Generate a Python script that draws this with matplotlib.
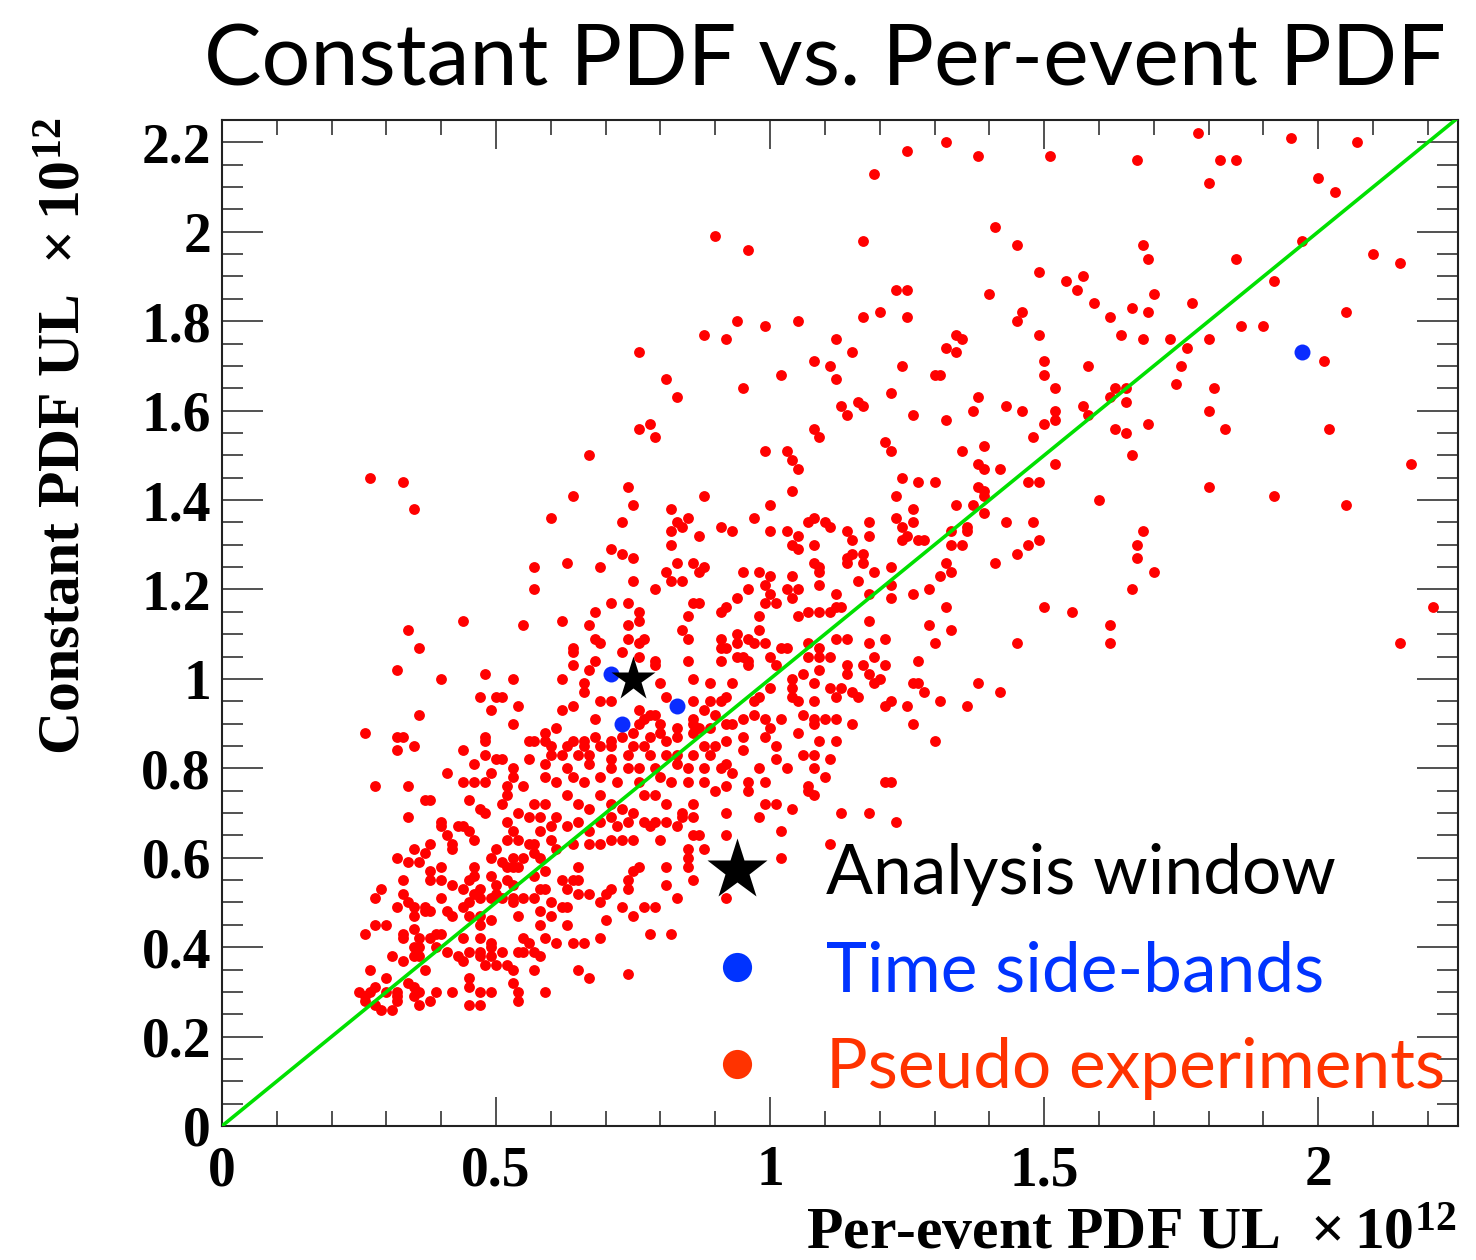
import matplotlib
matplotlib.use("Agg")
import matplotlib.pyplot as plt
from matplotlib.lines import Line2D
from matplotlib.ticker import MultipleLocator

# ---------------- data (units of 1e12) ----------------
pseudo_pts = [
 (0.90,1.99),(0.96,1.96),(0.94,1.80),(0.99,1.79),(1.05,1.80),(0.88,1.77),(0.92,1.76),(1.12,1.76),
 (0.76,1.73),(1.08,1.71),(1.11,1.70),(1.12,1.67),(0.81,1.67),(1.02,1.68),(0.95,1.65),(0.83,1.63),
 (1.13,1.61),(0.76,1.56),(0.78,1.57),(0.79,1.54),(1.08,1.56),(1.09,1.54),(0.99,1.51),(1.03,1.51),
 (0.67,1.50),
 (1.32,2.20),(1.25,2.18),(1.19,2.13),(1.38,2.17),(1.51,2.17),(1.67,2.16),(1.17,1.98),(1.41,2.01),
 (1.45,1.97),(1.68,1.97),(1.69,1.94),(1.49,1.91),(1.54,1.89),(1.57,1.90),(1.56,1.87),(1.40,1.86),
 (1.23,1.87),(1.25,1.87),(1.59,1.84),(1.66,1.83),(1.69,1.82),(1.46,1.82),(1.45,1.80),(1.20,1.82),
 (1.17,1.81),(1.25,1.81),(1.62,1.81),(1.34,1.77),(1.35,1.76),(1.49,1.77),(1.64,1.77),(1.68,1.76),
 (1.15,1.73),(1.32,1.74),(1.34,1.73),(1.50,1.71),(1.50,1.68),(1.58,1.70),(1.24,1.70),(1.30,1.68),
 (1.31,1.68),(1.52,1.65),(1.63,1.65),(1.65,1.65),(1.62,1.63),(1.65,1.62),(1.22,1.64),(1.16,1.62),
 (1.17,1.61),(1.14,1.59),(1.38,1.63),(1.37,1.60),(1.43,1.61),(1.46,1.60),(1.57,1.61),(1.58,1.59),
 (1.52,1.60),(1.52,1.58),(1.50,1.57),(1.26,1.59),(1.32,1.58),(1.63,1.56),(1.65,1.55),(1.69,1.57),
 (1.48,1.54),(1.21,1.53),(1.22,1.51),(1.35,1.51),(1.39,1.52),(1.66,1.50),
 (1.78,2.22),(1.95,2.21),(2.07,2.20),(1.82,2.16),(1.85,2.16),(1.80,2.11),(2.00,2.12),(2.03,2.09),
 (1.97,1.98),(1.85,1.94),(2.10,1.95),(2.15,1.93),(1.92,1.89),(1.70,1.86),(1.77,1.84),(2.05,1.82),
 (1.86,1.79),(1.90,1.79),(1.73,1.76),(1.76,1.74),(1.80,1.76),(2.01,1.71),(1.75,1.70),(1.74,1.66),
 (1.81,1.65),(1.80,1.60),(1.83,1.56),(2.02,1.56),
 (2.17,1.48),(1.80,1.43),(1.92,1.41),(2.05,1.39),(1.70,1.24),(2.21,1.16),(2.15,1.08),
 (1.38,1.48),(1.39,1.47),(1.42,1.47),(1.52,1.48),(1.24,1.45),(1.27,1.44),(1.30,1.44),(1.47,1.44),
 (1.49,1.44),(1.38,1.43),(1.39,1.42),(1.23,1.41),(1.39,1.41),(1.60,1.40),(1.34,1.39),(1.37,1.39),
 (1.26,1.38),(1.39,1.37),(1.23,1.36),(1.26,1.35),(1.24,1.34),(1.18,1.35),(1.43,1.35),(1.48,1.35),
 (1.36,1.34),(1.36,1.33),(1.68,1.33),(1.14,1.33),(1.15,1.31),(1.18,1.32),(1.24,1.31),(1.25,1.32),
 (1.27,1.31),(1.28,1.31),(1.33,1.30),(1.33,1.33),(1.35,1.30),(1.49,1.31),(1.47,1.30),(1.45,1.28),
 (1.67,1.30),(1.67,1.27),(1.14,1.27),(1.15,1.28),(1.17,1.28),(1.14,1.26),(1.17,1.26),(1.22,1.25),
 (1.19,1.24),(1.16,1.22),(1.32,1.26),(1.33,1.24),(1.31,1.23),(1.41,1.26),(1.22,1.21),(1.18,1.19),
 (1.22,1.18),(1.26,1.19),(1.29,1.20),(1.66,1.20),(1.13,1.16),(1.32,1.16),(1.50,1.16),(1.55,1.15),
 (1.18,1.13),(1.29,1.12),(1.33,1.11),(1.62,1.12),(1.14,1.09),(1.18,1.08),(1.21,1.09),(1.30,1.08),
 (1.45,1.08),(1.62,1.08),(1.19,1.05),(1.14,1.03),(1.17,1.03),(1.21,1.03),(1.27,1.04),(1.14,1.01),
 (1.18,1.01),(1.19,0.99),(1.20,1.00),(1.26,0.99),(1.27,0.99),(1.38,0.99),(1.13,0.98),(1.15,0.97),
 (1.16,0.96),(1.28,0.97),(1.42,0.97),(1.22,0.95),(1.21,0.94),(1.25,0.94),(1.31,0.95),(1.36,0.94),
 (1.15,0.90),(1.26,0.90),(1.30,0.86),(1.21,0.77),(1.22,0.77),
 (1.04,1.49),(1.05,1.47),(0.74,1.43),(0.64,1.41),(0.88,1.41),(1.04,1.42),(0.75,1.39),(1.00,1.39),
 (0.82,1.38),(0.60,1.36),(0.73,1.35),(0.85,1.36),(0.83,1.35),(0.84,1.34),(0.91,1.34),(0.93,1.33),
 (0.97,1.36),(1.00,1.33),(1.03,1.33),(1.05,1.32),(1.08,1.36),(1.07,1.35),(1.10,1.35),(1.11,1.34),
 (0.82,1.33),(0.87,1.32),(0.82,1.30),(0.71,1.29),(0.73,1.28),(0.75,1.27),(1.04,1.30),(1.05,1.29),
 (1.08,1.30),(0.63,1.26),(0.69,1.25),(0.57,1.25),(0.83,1.26),(0.86,1.26),(0.88,1.25),(0.87,1.24),
 (0.81,1.24),(0.82,1.22),(0.84,1.22),(0.95,1.24),(0.98,1.24),(1.00,1.23),(1.04,1.23),(1.08,1.26),
 (1.09,1.25),(1.09,1.24),(0.75,1.22),(0.79,1.20),(0.96,1.20),(0.99,1.21),(1.00,1.19),(1.03,1.20),
 (1.05,1.20),(1.09,1.21),(1.12,1.19),(0.57,1.20),(0.94,1.18),(0.99,1.17),(1.01,1.17),(1.04,1.18),
 (0.71,1.17),(0.74,1.17),(0.86,1.17),(0.87,1.17),(0.91,1.15),(0.92,1.16),(0.68,1.15),(0.76,1.15),
 (0.85,1.14),(1.07,1.15),(1.09,1.15),(1.11,1.15),(1.12,1.16),(0.98,1.14),(1.05,1.14),(0.62,1.13),
 (0.76,1.13),(0.67,1.12),(0.74,1.12),(0.68,1.09),(0.74,1.09),(0.84,1.11),(0.85,1.09),(0.94,1.10),
 (0.96,1.09),(0.98,1.11),(0.91,1.09),(0.91,1.07),(0.92,1.07),(0.76,1.08),(0.77,1.09),(0.69,1.08),
 (0.64,1.07),(0.64,1.06),(0.94,1.08),(0.97,1.08),(0.99,1.08),(1.02,1.07),(1.03,1.07),(1.07,1.08),
 (1.09,1.07),(1.12,1.09),(0.73,1.06),(0.76,1.05),(0.94,1.05),(0.95,1.05),(0.96,1.04),(1.00,1.05),
 (1.01,1.03),(0.68,1.04),(0.85,1.04),(0.91,1.04),(0.79,1.04),(0.79,1.03),(1.07,1.05),(1.09,1.05),
 (1.11,1.05),(0.64,1.03),(0.67,1.02),(0.62,1.00),(0.96,1.03),(1.06,1.01),(1.09,1.02),(0.86,1.00),
 (0.89,0.99),(0.93,0.99),(1.04,1.00),(1.04,0.98),(1.08,0.99),(0.80,0.99),(0.66,0.99),(0.66,0.97),
 (1.00,0.98),(1.11,0.98),(0.81,0.96),(0.69,0.95),(0.71,0.95),(0.64,0.94),(0.86,0.95),(0.89,0.95),
 (0.91,0.95),(0.92,0.96),(0.97,0.95),(0.98,0.96),(1.04,0.96),(1.05,0.95),(1.08,0.95),(1.12,0.96),
 (0.62,0.93),(0.76,0.93),(0.78,0.92),(0.79,0.92),(0.86,0.91),(0.88,0.93),(0.90,0.92),(0.95,0.91),
 (0.97,0.92),(0.99,0.91),(1.06,0.92),(1.08,0.91),(1.10,0.91),(1.12,0.91),(0.68,0.91),(0.76,0.90),
 (0.77,0.91),(0.80,0.90),(0.83,0.89),(0.86,0.90),(0.92,0.90),(0.93,0.90),(1.02,0.91),(1.00,0.89),
 (1.08,0.90),(0.61,0.89),(0.59,0.88),(0.57,0.86),(0.59,0.86),(0.64,0.86),(0.66,0.86),(0.68,0.87),
 (0.71,0.86),(0.73,0.87),(0.75,0.88),(0.78,0.87),(0.80,0.88),(0.83,0.87),(0.86,0.88),(0.87,0.89),
 (0.89,0.89),(0.95,0.87),(0.99,0.87),(1.05,0.88),(1.09,0.86),(1.12,0.86),(0.60,0.85),(0.63,0.85),
 (0.66,0.85),(0.69,0.85),(0.71,0.85),(0.75,0.85),(0.77,0.85),(0.81,0.86),(0.88,0.85),(0.90,0.85),
 (0.92,0.86),(1.01,0.85),(0.60,0.83),(0.62,0.83),(0.65,0.83),(0.67,0.83),(0.71,0.82),(0.74,0.83),
 (0.78,0.83),(0.81,0.83),(0.83,0.83),(0.86,0.83),(0.89,0.83),(0.92,0.81),(0.95,0.84),(1.01,0.82),
 (1.06,0.83),(1.08,0.83),(1.11,0.82),(0.59,0.81),(0.63,0.80),(0.67,0.81),(0.71,0.80),(0.74,0.80),
 (0.76,0.80),(0.79,0.80),(0.83,0.81),(0.85,0.80),(0.88,0.80),(0.91,0.80),(0.93,0.79),(0.98,0.80),
 (1.03,0.80),(1.08,0.80),(0.59,0.78),(0.61,0.77),(0.64,0.78),(0.66,0.77),(0.69,0.78),(0.72,0.77),
 (0.76,0.77),(0.80,0.78),(0.82,0.77),(0.85,0.77),(0.88,0.77),(0.92,0.76),(0.96,0.77),(0.99,0.77),
 (1.10,0.78),(1.07,0.76),
 (0.27,1.45),(0.33,1.44),(0.35,1.38),(0.44,1.13),(0.34,1.11),(0.55,1.12),(0.36,1.07),(0.32,1.02),
 (0.40,1.00),(0.48,1.01),(0.53,1.00),(0.47,0.96),(0.50,0.96),(0.51,0.96),(0.54,0.94),(0.49,0.93),
 (0.36,0.92),(0.53,0.90),(0.26,0.88),(0.32,0.87),(0.33,0.87),(0.48,0.87),(0.48,0.86),(0.56,0.86),
 (0.32,0.84),(0.35,0.85),(0.44,0.84),(0.48,0.83),(0.50,0.82),(0.51,0.82),(0.56,0.82),(0.46,0.81),
 (0.49,0.79),(0.53,0.80),(0.53,0.78),(0.41,0.79),(0.44,0.77),(0.46,0.77),(0.48,0.77),(0.52,0.76),
 (0.55,0.76),(0.28,0.76),(0.34,0.76),
 (0.37,0.73),(0.38,0.73),(0.45,0.73),(0.47,0.71),(0.48,0.70),(0.51,0.72),(0.52,0.74),(0.54,0.70),
 (0.56,0.69),(0.34,0.69),(0.40,0.68),(0.40,0.67),(0.43,0.67),(0.44,0.67),(0.41,0.65),(0.45,0.66),
 (0.46,0.64),(0.42,0.63),(0.42,0.62),(0.52,0.68),(0.53,0.66),(0.52,0.64),(0.54,0.64),(0.56,0.63),
 (0.35,0.62),(0.37,0.61),(0.38,0.63),(0.32,0.60),(0.34,0.59),(0.36,0.59),(0.50,0.62),(0.49,0.60),
 (0.51,0.59),(0.53,0.60),(0.55,0.60),(0.53,0.58),(0.46,0.58),(0.38,0.57),(0.40,0.58),(0.46,0.56),
 (0.52,0.58),(0.54,0.58),(0.33,0.55),(0.38,0.55),(0.40,0.55),(0.42,0.54),(0.44,0.53),(0.45,0.55),
 (0.47,0.53),(0.49,0.56),(0.50,0.54),(0.52,0.55),(0.53,0.54),(0.28,0.51),(0.29,0.53),(0.33,0.52),
 (0.32,0.49),(0.34,0.50),(0.35,0.49),(0.37,0.49),(0.35,0.47),(0.37,0.48),(0.38,0.48),(0.40,0.51),
 (0.41,0.48),(0.42,0.47),(0.44,0.49),(0.45,0.50),(0.46,0.52),(0.47,0.51),(0.49,0.51),(0.50,0.52),
 (0.51,0.51),(0.53,0.51),(0.53,0.50),(0.55,0.51),(0.45,0.47),(0.47,0.45),(0.47,0.47),(0.49,0.46),
 (0.54,0.47),(0.28,0.45),(0.30,0.45),(0.26,0.43),(0.33,0.43),(0.33,0.42),(0.35,0.44),(0.36,0.42),
 (0.38,0.42),(0.39,0.43),(0.40,0.43),(0.44,0.42),(0.47,0.42),(0.49,0.41),(0.49,0.40),(0.55,0.42),
 (0.56,0.41),(0.35,0.40),(0.36,0.40),(0.39,0.40),(0.41,0.39),(0.47,0.39),(0.51,0.39),(0.54,0.39),
 (0.31,0.38),(0.33,0.37),(0.35,0.38),(0.36,0.38),(0.43,0.38),(0.44,0.37),(0.45,0.39),(0.47,0.38),
 (0.48,0.36),(0.49,0.38),(0.50,0.36),(0.52,0.36),(0.53,0.35),(0.55,0.39),(0.27,0.35),(0.37,0.35),
 (0.45,0.33),(0.53,0.32),(0.45,0.31),(0.25,0.30),(0.26,0.29),(0.27,0.30),(0.28,0.31),(0.30,0.33),
 (0.30,0.30),(0.32,0.29),(0.32,0.30),(0.34,0.32),(0.35,0.31),(0.35,0.29),(0.36,0.30),(0.39,0.30),
 (0.38,0.28),(0.42,0.30),(0.47,0.30),(0.49,0.30),(0.54,0.30),(0.26,0.28),(0.28,0.27),(0.29,0.26),
 (0.31,0.26),(0.36,0.27),(0.45,0.27),(0.47,0.27),(0.54,0.28),(0.32,0.28),
 (0.57,0.72),(0.59,0.72),(0.63,0.74),(0.65,0.72),(0.67,0.71),(0.69,0.74),(0.71,0.72),(0.73,0.71),
 (0.75,0.70),(0.77,0.74),(0.79,0.74),(0.81,0.72),(0.84,0.70),(0.86,0.72),(0.86,0.69),(0.90,0.75),
 (0.92,0.70),(0.96,0.75),(0.98,0.69),(0.99,0.72),(1.01,0.72),(1.04,0.71),(1.07,0.75),(1.08,0.74),
 (1.13,0.70),(0.58,0.69),(0.61,0.69),(0.60,0.67),(0.58,0.66),(0.63,0.67),(0.65,0.68),(0.67,0.66),
 (0.69,0.68),(0.71,0.69),(0.72,0.67),(0.74,0.68),(0.77,0.68),(0.78,0.67),(0.79,0.68),(0.81,0.68),
 (0.83,0.67),(0.84,0.69),(0.86,0.65),(0.87,0.65),(0.92,0.65),(1.02,0.66),(0.57,0.63),(0.60,0.64),
 (0.61,0.62),(0.64,0.63),(0.67,0.63),(0.69,0.63),(0.71,0.64),(0.73,0.64),(0.75,0.64),(0.80,0.64),
 (0.85,0.62),(0.85,0.60),(0.88,0.62),(1.11,0.63),(1.02,0.60),(0.58,0.60),(0.57,0.61),(0.59,0.57),
 (0.57,0.56),(0.65,0.58),(0.62,0.55),(0.64,0.55),(0.65,0.55),(0.76,0.58),(0.75,0.57),(0.74,0.55),
 (0.81,0.58),(0.85,0.58),(0.81,0.54),(0.86,0.55),(0.58,0.53),(0.59,0.53),(0.63,0.53),(0.65,0.52),
 (0.67,0.52),(0.70,0.52),(0.71,0.53),(0.74,0.53),(0.57,0.51),(0.60,0.50),(0.62,0.49),(0.63,0.49),
 (0.69,0.50),(0.73,0.49),(0.77,0.49),(0.79,0.49),(0.83,0.51),(0.92,0.51),(0.58,0.48),(0.60,0.47),
 (0.70,0.46),(0.75,0.47),(0.58,0.45),(0.63,0.45),(0.59,0.42),(0.61,0.41),(0.64,0.41),(0.66,0.41),
 (0.69,0.42),(0.78,0.43),(0.82,0.43),(0.57,0.39),(0.58,0.38),(0.57,0.35),(0.65,0.35),(0.67,0.33),
 (0.74,0.34),(0.59,0.30),(1.18,0.70),(1.23,0.68),
]
pseudo_x = [p[0] for p in pseudo_pts]
pseudo_y = [p[1] for p in pseudo_pts]

sideband_x = [0.71, 0.73, 0.83, 1.97]
sideband_y = [1.01, 0.90, 0.94, 1.73]

window_x = [0.75]
window_y = [1.00]

title = "Constant PDF vs. Per-event PDF"
xlabel = r"Per-event PDF UL  $\times\,10^{12}$"
ylabel = r"Constant PDF UL  $\times\,10^{12}$"
legend_labels = ["Analysis window", "Time side-bands", "Pseudo experiments"]

# ---------------- style ----------------
plt.rcParams['mathtext.fontset'] = 'custom'
plt.rcParams['mathtext.rm'] = 'Liberation Serif:bold'
plt.rcParams['mathtext.default'] = 'rm'

RED = '#ff0000'
BLUE = '#0a2cff'
LEG_RED = '#ff3300'
GREEN = '#00e000'

fig = plt.figure(figsize=(14.76, 12.6), dpi=100)
ax = fig.add_axes([222/1476, 134/1260, 1236/1476, 1006/1260])

ax.plot(pseudo_x, pseudo_y, 'o', color=RED, ms=7.8, mec='none', zorder=2)
ax.plot([0, 2.4], [0, 2.4], '-', color=GREEN, lw=2.6, zorder=3)
ax.plot(sideband_x, sideband_y, 'o', color=BLUE, ms=11.5, mec='none', zorder=4)
ax.plot(window_x, window_y, '*', color='black', ms=33, mec='none', zorder=5)

ax.set_xlim(0, 2.255)
ax.set_ylim(0, 2.25)

ax.xaxis.set_major_locator(MultipleLocator(0.5))
ax.xaxis.set_minor_locator(MultipleLocator(0.1))
ax.yaxis.set_major_locator(MultipleLocator(0.2))
ax.yaxis.set_minor_locator(MultipleLocator(0.05))
ax.xaxis.set_major_formatter(plt.FuncFormatter(lambda v, p: f"{v:g}"))
ax.yaxis.set_major_formatter(plt.FuncFormatter(lambda v, p: f"{v:g}"))

ax.tick_params(axis='both', which='both', direction='in', top=True, right=True,
               width=1.1, color='#222222')
ax.tick_params(axis='x', which='major', length=21, pad=14)
ax.tick_params(axis='x', which='minor', length=11)
ax.tick_params(axis='y', which='major', length=29.5, pad=8)
ax.tick_params(axis='y', which='minor', length=15)
for lab in ax.get_xticklabels() + ax.get_yticklabels():
    lab.set_fontfamily('Liberation Serif')
    lab.set_fontweight('bold')
    lab.set_fontsize(40)
for s in ax.spines.values():
    s.set_linewidth(1.5)
    s.set_color('#222222')

fig.text(825/1476, 1 - 86/1260, title, ha='center', va='baseline',
         fontsize=62, family='Lato', color='black')

fig.text(66/1476, 1 - 118/1260, ylabel, rotation=90, ha='center', va='top',
         fontsize=43, family='Liberation Serif', fontweight='bold')
fig.text(1456/1476, 1 - 1249/1260, xlabel, ha='right', va='baseline',
         fontsize=43, family='Liberation Serif', fontweight='bold')

handles = [
    Line2D([], [], marker='*', ls='none', color='black', ms=46, mec='none'),
    Line2D([], [], marker='o', ls='none', color='#0033ff', ms=21, mec='none'),
    Line2D([], [], marker='o', ls='none', color=LEG_RED, ms=21, mec='none'),
]
leg = ax.legend(handles, legend_labels, loc='upper left',
                bbox_to_anchor=((702-222)/1236, (1126-843)/1006),
                frameon=False, prop={'family': 'Lato', 'size': 50},
                handlelength=1.0, handletextpad=0.78, labelspacing=0.49,
                borderpad=0, borderaxespad=0,
                labelcolor=['black', '#0033ff', LEG_RED])
leg.set_clip_on(False)

fig.savefig('out.png', dpi=100)
